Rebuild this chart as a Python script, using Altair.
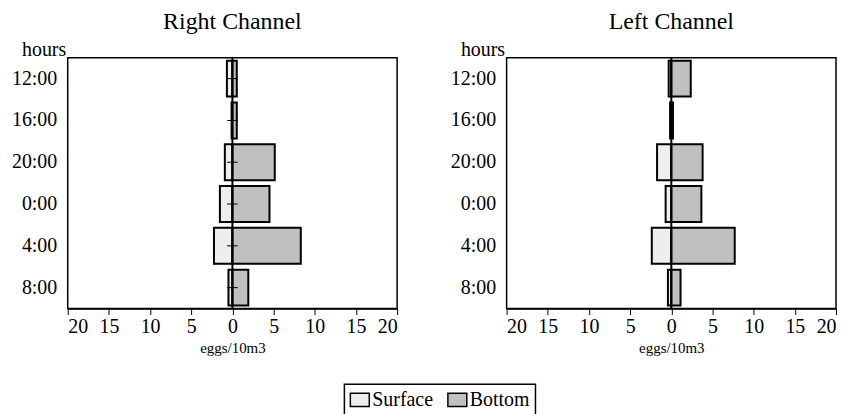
import altair as alt
import pandas as pd

hours = ["12:00", "16:00", "20:00", "0:00", "4:00", "8:00"]
right_surface = [0.67, 0.1, 0.92, 1.52, 2.24, 0.48]
right_bottom = [0.53, 0.53, 5.14, 4.5, 8.3, 1.93]
right_err = [0.65, 0.65, 0.65, 0.65, 0.65, 0.65]
left_surface = [0.32, 0.15, 1.73, 0.69, 2.37, 0.41]
left_bottom = [2.36, 0.2, 3.8, 3.65, 7.7, 1.12]
x_ticks = [-20, -15, -10, -5, 0, 5, 10, 15, 20]
series = ["Surface", "Bottom"]
colors = ["#eeeeee", "#c0c0c0"]

FONT = "Liberation Serif"


def long_df(surface, bottom):
    rows = []
    for h, s, b in zip(hours, surface, bottom):
        rows.append({"hours": h, "series": "Surface", "value": -s})
        rows.append({"hours": h, "series": "Bottom", "value": b})
    return pd.DataFrame(rows)


YSCALE = alt.Scale(domain=hours, paddingInner=0.14, paddingOuter=0.07)


def panel(title, surface, bottom, err=None):
    df = long_df(surface, bottom)
    y = alt.Y(
        "hours:N",
        sort=hours,
        scale=YSCALE,
        axis=alt.Axis(
            title="hours", titleAngle=0, titleAlign="right", titleBaseline="alphabetic",
            titleX=-2, titleY=-2, ticks=False, domain=False, labelPadding=11,
            labelFontSize=20, titleFontSize=20, titleFontWeight="normal",
        ),
    )
    x = alt.X(
        "value:Q",
        stack=None,
        scale=alt.Scale(domain=[-20, 20], nice=False),
        axis=alt.Axis(
            values=x_ticks, labelExpr="abs(datum.value)", title="eggs/10m3",
            titleFontSize=15, titleFontWeight="normal", labelFontSize=20,
            tickSize=6, labelPadding=2, grid=False, titlePadding=4,
            domainColor="black", tickColor="black", domainWidth=1.5,
        ),
    )
    bars = alt.Chart(df).mark_bar(stroke="black", strokeWidth=2).encode(
        x=x,
        y=y,
        color=alt.Color(
            "series:N",
            scale=alt.Scale(domain=series, range=colors),
            legend=alt.Legend(title=None),
            sort=series,
        ),
    )
    zero = alt.Chart(pd.DataFrame({"z": [0]})).mark_rule(color="black", strokeWidth=2).encode(
        x=alt.X("z:Q")
    )
    layers = [bars, zero]
    if err is not None:
        edf = pd.DataFrame({"hours": hours, "lo": [-e for e in err], "hi": err})
        ticks = alt.Chart(edf).mark_rule(color="black", strokeWidth=1).encode(
            x=alt.X("lo:Q"), x2="hi:Q", y=alt.Y("hours:N", sort=hours, scale=YSCALE)
        )
        layers.append(ticks)
    return alt.layer(*layers).properties(
        width=331, height=252,
        title=alt.Title(title, fontSize=24, fontWeight="normal", font=FONT, offset=6),
    )


left = panel("Right Channel", right_surface, right_bottom, right_err)
right = panel("Left Channel", left_surface, left_bottom)

chart = alt.hconcat(left, right, spacing=50).properties(
    padding={"top": 0, "left": 2, "right": 2, "bottom": 0}
).configure(
    font=FONT
).configure_view(
    stroke="black", strokeWidth=1.5
).configure_axis(
    labelFont=FONT, titleFont=FONT, labelColor="black", titleColor="black"
).configure_legend(
    orient="none", legendX=278, legendY=328, direction="horizontal",
    strokeColor="black", strokeWidth=1.5, padding=5, labelFont=FONT,
    labelFontSize=20, labelColor="black",
    symbolType="M-1,-0.7H1V0.7H-1Z", symbolSize=361,
    symbolStrokeColor="black", symbolStrokeWidth=1.5, columnPadding=11,
    labelOffset=2, cornerRadius=0, fillColor="white",
)

chart.save("out.html", embed_options={"renderer": "svg", "actions": False})
